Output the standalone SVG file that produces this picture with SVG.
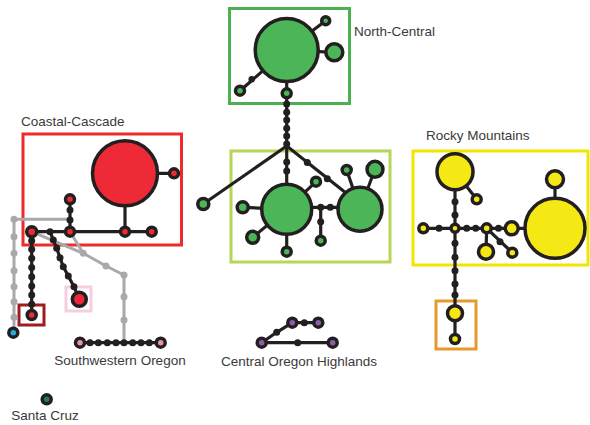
<svg xmlns="http://www.w3.org/2000/svg" width="590" height="425" viewBox="0 0 590 425">
<style>
.box{fill:none;stroke-width:3}
.ln{fill:none;stroke:#231f20;stroke-width:3.2;stroke-linejoin:round}
.gl{fill:none;stroke:#a7a9ac;stroke-width:3;stroke-linejoin:round}
.n{stroke:#231f20;stroke-width:3.5}
.dot{fill:#231f20}
.gdot{fill:#a7a9ac}
.g{fill:#4bb557}
.r{fill:#ee2a37}
.y{fill:#f5e815}
.p{fill:#8b5ea8}
.pk{fill:#e8949c}
.lbl{font-family:"Liberation Sans",Arial,sans-serif;font-size:13.5px;fill:#3a3a3a}
</style>
<rect width="590" height="425" fill="#ffffff"/>
<g id="boxes">
<rect class="box" x="229.5" y="8.5" width="120" height="95" stroke="#4cb050"/>
<rect class="box" x="231" y="151" width="159" height="111" stroke="#b6d657"/>
<rect class="box" x="23" y="134" width="158.5" height="111" stroke="#ee2a2a"/>
<rect class="box" x="413" y="151" width="175" height="114" stroke="#f2e500"/>
<rect class="box" x="436" y="301" width="40" height="48" stroke="#e49b2c"/>
<rect class="box" x="19" y="305" width="25" height="20" stroke="#9e1b20"/>
<rect class="box" x="66" y="287" width="25" height="24" stroke="#f7cde1"/>
</g>
<g id="connectors">
<polyline class="gl" points="70,219.3 14,219.3 14,332.7"/>
<polyline class="gl" points="31.7,231.7 83.3,253.3 106,266 124,275 124,342.7"/>
<line class="gl" x1="70" y1="231.7" x2="83.3" y2="253.3"/>
<line class="ln" x1="286.7" y1="50" x2="325.7" y2="20.7"/>
<line class="ln" x1="286.7" y1="50" x2="334.3" y2="52.3"/>
<line class="ln" x1="286.7" y1="50" x2="240" y2="90.7"/>
<line class="ln" x1="286.7" y1="50" x2="286.7" y2="209.3"/>
<line class="ln" x1="286.7" y1="146" x2="203.3" y2="204"/>
<line class="ln" x1="286.7" y1="146" x2="346" y2="193"/>
<line class="ln" x1="286.7" y1="209.3" x2="242.7" y2="207.3"/>
<line class="ln" x1="286.7" y1="209.3" x2="252.7" y2="237.3"/>
<line class="ln" x1="286.7" y1="209.3" x2="286.7" y2="251.7"/>
<line class="ln" x1="286.7" y1="209.3" x2="316" y2="181.7"/>
<line class="ln" x1="300" y1="207.3" x2="345" y2="207.3"/>
<line class="ln" x1="320.7" y1="207.3" x2="320.7" y2="240.7"/>
<line class="ln" x1="360" y1="209.3" x2="346.7" y2="170"/>
<line class="ln" x1="360" y1="209.3" x2="375" y2="169.3"/>
<line class="ln" x1="125" y1="173.3" x2="174" y2="173.3"/>
<line class="ln" x1="125" y1="173.3" x2="125" y2="231.7"/>
<line class="ln" x1="31.7" y1="231.7" x2="151.7" y2="231.7"/>
<line class="ln" x1="70" y1="231.7" x2="70" y2="199.3"/>
<line class="ln" x1="31.7" y1="231.7" x2="31.7" y2="315"/>
<polyline class="ln" points="50,231.7 53.3,240 56.7,248.3 60,257.7 63.3,266.7 68.3,276 74,286.7 79.3,299.3"/>
<line class="ln" x1="80" y1="342.7" x2="160.7" y2="342.7"/>
<line class="ln" x1="261.7" y1="342.7" x2="332.7" y2="342.7"/>
<polyline class="ln" points="261.7,342.7 276.7,332.3 292.3,322.7 318.3,322.7"/>
<line class="ln" x1="455" y1="171.7" x2="476.7" y2="199.3"/>
<line class="ln" x1="455" y1="171.7" x2="455" y2="339"/>
<line class="ln" x1="423.3" y1="228.3" x2="555" y2="228.3"/>
<line class="ln" x1="486.7" y1="228.3" x2="486" y2="251.7"/>
<line class="ln" x1="486.7" y1="228.3" x2="512.3" y2="252.7"/>
<line class="ln" x1="555" y1="228.3" x2="555" y2="179.3"/>
</g>
<g id="median-vectors">
<circle class="gdot" cx="14" cy="219.3" r="3.5"/>
<circle class="gdot" cx="14" cy="236.7" r="3.5"/>
<circle class="gdot" cx="14" cy="253.3" r="3.5"/>
<circle class="gdot" cx="14" cy="270.7" r="3.5"/>
<circle class="gdot" cx="14" cy="286.7" r="3.5"/>
<circle class="gdot" cx="14" cy="301.7" r="3.5"/>
<circle class="gdot" cx="14" cy="317.3" r="3.5"/>
<circle class="gdot" cx="83.3" cy="253.3" r="3.5"/>
<circle class="gdot" cx="106" cy="266" r="3.5"/>
<circle class="gdot" cx="124" cy="275" r="3.5"/>
<circle class="gdot" cx="124" cy="296.7" r="3.5"/>
<circle class="gdot" cx="124" cy="320" r="3.5"/>
<circle class="dot" cx="251.7" cy="79.3" r="3.2"/>
<circle class="dot" cx="286.7" cy="104" r="3.5"/>
<circle class="dot" cx="286.7" cy="112.3" r="3.5"/>
<circle class="dot" cx="286.7" cy="120" r="3.5"/>
<circle class="dot" cx="286.7" cy="128.3" r="3.5"/>
<circle class="dot" cx="286.7" cy="136" r="3.5"/>
<circle class="dot" cx="286.7" cy="144" r="3.5"/>
<circle class="dot" cx="286.7" cy="162" r="3.5"/>
<circle class="dot" cx="286.7" cy="171" r="3.5"/>
<circle class="dot" cx="307.3" cy="162.5" r="3.5"/>
<circle class="dot" cx="327.3" cy="178.8" r="3.5"/>
<circle class="dot" cx="320.7" cy="207.3" r="3.5"/>
<circle class="dot" cx="330.3" cy="207.3" r="3.5"/>
<circle class="dot" cx="320.7" cy="221.7" r="3.5"/>
<circle class="dot" cx="50" cy="231.7" r="3.5"/>
<circle class="dot" cx="70" cy="220" r="3.5"/>
<circle class="dot" cx="70" cy="210" r="3.5"/>
<circle class="dot" cx="31.7" cy="240.7" r="3.5"/>
<circle class="dot" cx="31.7" cy="249.3" r="3.5"/>
<circle class="dot" cx="31.7" cy="258.3" r="3.5"/>
<circle class="dot" cx="31.7" cy="267.5" r="3.5"/>
<circle class="dot" cx="31.7" cy="276.7" r="3.5"/>
<circle class="dot" cx="31.7" cy="286" r="3.5"/>
<circle class="dot" cx="31.7" cy="295" r="3.5"/>
<circle class="dot" cx="31.7" cy="304.3" r="3.5"/>
<circle class="dot" cx="53.3" cy="240" r="3.5"/>
<circle class="dot" cx="56.7" cy="248.3" r="3.5"/>
<circle class="dot" cx="60" cy="257.7" r="3.5"/>
<circle class="dot" cx="63.3" cy="266.7" r="3.5"/>
<circle class="dot" cx="68.3" cy="276" r="3.5"/>
<circle class="dot" cx="74" cy="286.7" r="3.5"/>
<circle class="dot" cx="90" cy="342.7" r="3.5"/>
<circle class="dot" cx="98.3" cy="342.7" r="3.5"/>
<circle class="dot" cx="107.3" cy="342.7" r="3.5"/>
<circle class="dot" cx="116" cy="342.7" r="3.5"/>
<circle class="dot" cx="124" cy="342.7" r="3.5"/>
<circle class="dot" cx="132.7" cy="342.7" r="3.5"/>
<circle class="dot" cx="141" cy="342.7" r="3.5"/>
<circle class="dot" cx="149.3" cy="342.7" r="3.5"/>
<circle class="dot" cx="297.7" cy="342.7" r="3.5"/>
<circle class="dot" cx="276.7" cy="332.3" r="3.5"/>
<circle class="dot" cx="304.3" cy="322.7" r="3.5"/>
<circle class="dot" cx="455" cy="201.7" r="3.5"/>
<circle class="dot" cx="455" cy="215" r="3.5"/>
<circle class="dot" cx="439" cy="228.3" r="3.5"/>
<circle class="dot" cx="466.7" cy="228.3" r="3.5"/>
<circle class="dot" cx="475.7" cy="228.3" r="3.5"/>
<circle class="dot" cx="498.5" cy="228.3" r="3.5"/>
<circle class="dot" cx="500" cy="241.7" r="3.5"/>
<circle class="dot" cx="455" cy="243.3" r="3.5"/>
<circle class="dot" cx="455" cy="257.3" r="3.5"/>
<circle class="dot" cx="455" cy="270.7" r="3.5"/>
<circle class="dot" cx="455" cy="284" r="3.5"/>
<circle class="dot" cx="455" cy="295" r="3.5"/>
</g>
<g id="north-central">
<circle id="nc-main" class="n g" cx="286.7" cy="50" r="31.5"/>
<circle id="nc-1" class="n g" cx="325.7" cy="20.7" r="4"/>
<circle id="nc-2" class="n g" cx="334.3" cy="52.3" r="8.5"/>
<circle id="nc-3" class="n g" cx="240" cy="90.7" r="4.5"/>
<circle id="nc-4" class="n g" cx="286.7" cy="93.3" r="4.5"/>
</g>
<g id="central-green">
<circle id="cg-main" class="n g" cx="286.7" cy="209.3" r="25"/>
<circle id="cg-right" class="n g" cx="360" cy="209.3" r="22"/>
<circle id="cg-1" class="n g" cx="203.3" cy="204" r="5.5"/>
<circle id="cg-2" class="n g" cx="242.7" cy="207.3" r="5.5"/>
<circle id="cg-3" class="n g" cx="252.7" cy="237.3" r="6"/>
<circle id="cg-4" class="n g" cx="286.7" cy="251.7" r="4.5"/>
<circle id="cg-5" class="n g" cx="316" cy="181.7" r="4.5"/>
<circle id="cg-6" class="n g" cx="320.7" cy="240.7" r="4.5"/>
<circle id="cg-7" class="n g" cx="346.7" cy="170" r="4.5"/>
<circle id="cg-8" class="n g" cx="375" cy="169.3" r="8"/>
</g>
<g id="coastal-cascade">
<circle id="cc-main" class="n r" cx="125" cy="173.3" r="32.5"/>
<circle id="cc-1" class="n r" cx="174" cy="173.3" r="4.5"/>
<circle id="cc-2" class="n r" cx="31.7" cy="231.7" r="5"/>
<circle id="cc-3" class="n r" cx="70" cy="231.7" r="4.5"/>
<circle id="cc-4" class="n r" cx="125" cy="231.7" r="4.5"/>
<circle id="cc-5" class="n r" cx="151.7" cy="231.7" r="4.5"/>
<circle id="cc-6" class="n r" cx="70" cy="199.3" r="4.5"/>
<circle id="cc-7" class="n r" cx="31.7" cy="315" r="4.5"/>
<circle id="cc-8" class="n r" cx="79.3" cy="299.3" r="7"/>
</g>
<g id="other-haplotypes">
<circle id="cyan" class="n" fill="#27aae1" cx="13.3" cy="332.7" r="4.5"/>
<circle id="sw-1" class="n pk" cx="80" cy="342.7" r="4.5"/>
<circle id="sw-2" class="n pk" cx="160.7" cy="342.7" r="4.5"/>
<circle id="santa-cruz" class="n" fill="#1f7a6e" cx="46.7" cy="399.3" r="4.5"/>
<circle id="coh-1" class="n p" cx="261.7" cy="342.7" r="4.5"/>
<circle id="coh-2" class="n p" cx="332.7" cy="342.7" r="4.5"/>
<circle id="coh-3" class="n p" cx="292.3" cy="322.7" r="4.5"/>
<circle id="coh-4" class="n p" cx="318.3" cy="322.7" r="4.5"/>
</g>
<g id="rocky-mountains">
<circle id="rm-1" class="n y" cx="455" cy="171.7" r="18"/>
<circle id="rm-2" class="n y" cx="476.7" cy="199.3" r="4.5"/>
<circle id="rm-3" class="n y" cx="455" cy="228.3" r="4"/>
<circle id="rm-4" class="n y" cx="423.3" cy="228.3" r="4.5"/>
<circle id="rm-5" class="n y" cx="486.7" cy="228.3" r="4.5"/>
<circle id="rm-6" class="n y" cx="511.7" cy="228.3" r="6.5"/>
<circle id="rm-main" class="n y" cx="555" cy="228.3" r="30"/>
<circle id="rm-7" class="n y" cx="555" cy="179.3" r="8.5"/>
<circle id="rm-8" class="n y" cx="486" cy="251.7" r="7.5"/>
<circle id="rm-9" class="n y" cx="512.3" cy="252.7" r="4.5"/>
<circle id="rm-10" class="n y" cx="455" cy="313.3" r="7.5"/>
<circle id="rm-11" class="n y" cx="455" cy="339" r="4.5"/>
</g>
<g id="labels">
<text class="lbl" x="354" y="36">North-Central</text>
<text class="lbl" x="21" y="126">Coastal-Cascade</text>
<text class="lbl" x="426" y="140">Rocky Mountains</text>
<text class="lbl" x="120" y="365" text-anchor="middle">Southwestern Oregon</text>
<text class="lbl" x="299" y="366" text-anchor="middle">Central Oregon Highlands</text>
<text class="lbl" x="45" y="420" text-anchor="middle">Santa Cruz</text>
</g>
</svg>
